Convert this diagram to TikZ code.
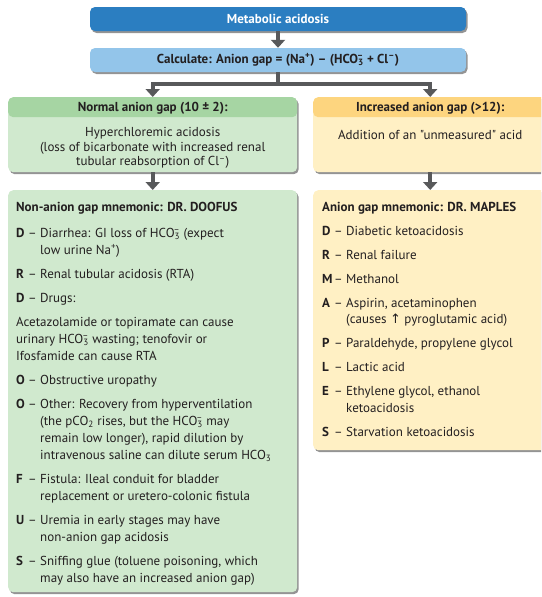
\documentclass[tikz,border=0pt]{standalone}
\usepackage{fontspec}
\setmainfont{PT Sans}[Ligatures=TeXOff]
\newfontfamily\symfont{DejaVu Sans}
\usetikzlibrary{arrows.meta,shadows}

\definecolor{acidblue}{HTML}{2B7EC1}
\definecolor{calcblue}{HTML}{93C5EA}
\definecolor{greenhead}{HTML}{A6D5A3}
\definecolor{greenbody}{HTML}{D0E9CE}
\definecolor{yellowhead}{HTML}{FDD57F}
\definecolor{yellowbody}{HTML}{FFF0C4}
\definecolor{arrowgray}{HTML}{58595B}
\definecolor{textgray}{HTML}{231F20}

\newcommand{\hco}{HCO\textsubscript{3}\llap{\textsuperscript{–}}}
\newcommand{\mnem}[2]{\par\hangindent=24pt\hangafter=1\noindent
  \makebox[24pt][l]{\textbf{#1}\hfill–\hspace{3.5pt}}#2}

\begin{document}
\begin{tikzpicture}[x=1pt,y=-1pt,>={Triangle[width=14pt,length=8pt]},
  font=\fontsize{13}{17}\selectfont,
  box/.style={rounded corners=5pt,inner sep=0pt,text=textgray,
    drop shadow={shadow xshift=1.5pt,shadow yshift=-2pt,opacity=.6,fill=black!70}},
  band/.style={path picture={\fill[#1] (path picture bounding box.north west)
    rectangle ([yshift=-20pt]path picture bounding box.north east);}},
  flow/.style={draw=arrowgray,line width=4pt}]
  \useasboundingbox (0,0) rectangle (541,597);
  \clip (0,0) rectangle (541,597);

  \node[box,fill=acidblue,text=white,minimum width=376pt,minimum height=24pt,
    font=\fontsize{13}{17}\selectfont\bfseries] (acid) at (278,19) {Metabolic acidosis};
  \node[box,fill=calcblue,minimum width=376pt,minimum height=24pt,
    font=\fontsize{13}{17}\selectfont\bfseries] (calc) at (278,60)
    {Calculate: Anion gap = (Na\textsuperscript{+}) – (\hco{} + Cl\textsuperscript{–})};

  \node[box,fill=greenbody,band=greenhead,anchor=north west] (normal) at (8,97)
    {\parbox[c][75pt][t]{289pt}{\centering\fontsize{13}{14.5}\selectfont
      \rule{0pt}{14.5pt}\textbf{Normal anion gap (10 ± 2):}\par\vspace{10.5pt}
      Hyperchloremic acidosis\\ (loss of bicarbonate with increased renal\\
      tubular reabsorption of Cl\textsuperscript{–})}};
  \node[box,fill=yellowbody,band=yellowhead,anchor=north west] (increased) at (313,97)
    {\parbox[c][75pt][t]{234pt}{\centering\fontsize{13}{14.5}\selectfont
      \rule{0pt}{14.5pt}\textbf{Increased anion gap (>12):}\par\vspace{13.5pt}
      Addition of an "unmeasured" acid}};

  \node[box,fill=greenbody,anchor=north west] (doofus) at (8,190)
    {\parbox[c][402pt][t]{289pt}{\raggedright\leftskip=8pt\parskip=7pt
      \rule{0pt}{21pt}\textbf{Non-anion gap mnemonic: DR. DOOFUS}\par\vspace{2pt}
      \mnem{D}{Diarrhea: GI loss of \hco{} (expect\newline low urine Na\textsuperscript{+})}
      \mnem{R}{Renal tubular acidosis (RTA)}
      \mnem{D}{Drugs:}
      \par\noindent Acetazolamide or topiramate can cause\newline
      urinary \hco{} wasting; tenofovir or\newline Ifosfamide can cause RTA
      \mnem{O}{Obstructive uropathy}
      \mnem{O}{Other: Recovery from hyperventilation\newline
        (the pCO\textsubscript{2} rises, but the \hco{} may\newline
        remain low longer), rapid dilution by\newline
        intravenous saline can dilute serum HCO\textsubscript{3}}
      \mnem{F}{Fistula: Ileal conduit for bladder\newline replacement or uretero-colonic fistula}
      \mnem{U}{Uremia in early stages may have\newline non-anion gap acidosis}
      \mnem{S}{Sniffing glue (toluene poisoning, which\newline may also have an increased anion gap)}}};
  \node[box,fill=yellowbody,anchor=north west] (maples) at (313,190)
    {\parbox[c][260pt][t]{234pt}{\raggedright\leftskip=9pt\parskip=7.5pt
      \fontsize{13}{16.5}\selectfont
      \rule{0pt}{21pt}\mbox{\textbf{Anion gap mnemonic: DR. MAPLES}}
      \mnem{D}{Diabetic ketoacidosis}
      \mnem{R}{Renal failure}
      \mnem{M}{Methanol}
      \mnem{A}{Aspirin, acetaminophen\newline (causes {\symfont ↑} pyroglutamic acid)}
      \mnem{P}{Paraldehyde, propylene glycol}
      \mnem{L}{Lactic acid}
      \mnem{E}{Ethylene glycol, ethanol\newline ketoacidosis}
      \mnem{S}{Starvation ketoacidosis}}};

  \coordinate (split) at ([yshift=-12pt]calc.south);
  \draw[flow,->] (acid) -- (calc);
  \draw[flow,->] (calc.south) -- (split) -| (normal.north);
  \draw[flow,->] (split) -| (increased.north);
  \draw[flow,->] (normal) -- (doofus);
  \draw[flow,->] (increased) -- (maples);
\end{tikzpicture}
\end{document}
